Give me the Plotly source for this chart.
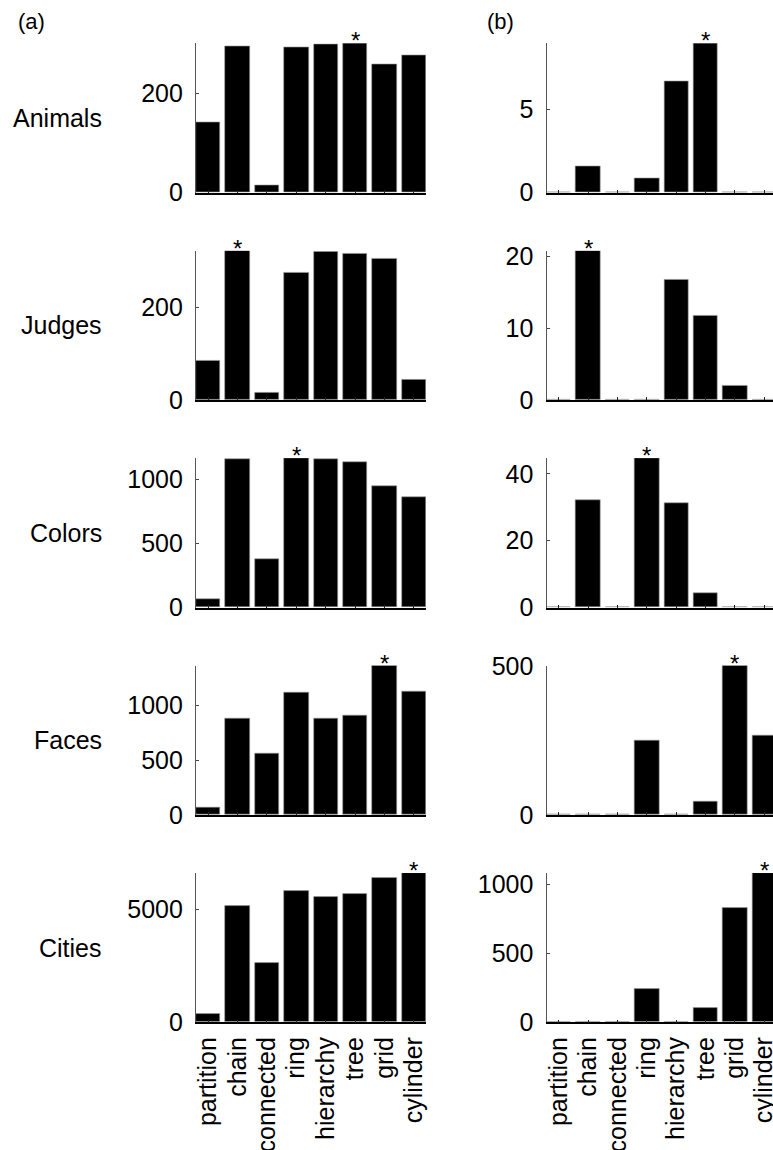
import plotly.graph_objects as go

categories = ["partition", "chain", "connected", "ring", "hierarchy", "tree", "grid", "cylinder"]
datasets = ["Animals", "Judges", "Colors", "Faces", "Cities"]

a_animals = [141, 294, 15, 292, 298, 301, 258, 276]
a_judges = [84, 322, 16, 275, 320, 315, 305, 43]
a_colors = [65, 1162, 378, 1167, 1160, 1136, 951, 859]
a_faces = [64, 881, 561, 1116, 878, 908, 1366, 1131]
a_cities = [355, 5165, 2647, 5817, 5564, 5684, 6408, 6616]

b_animals = [0, 1.6, 0, 0.84, 6.71, 8.96, 0, 0]
b_judges = [0, 20.8, 0, 0, 16.8, 11.76, 2.0, 0]
b_colors = [0, 32.0, 0, 44.7, 31.2, 4.2, 0, 0]
b_faces = [0, 0, 0, 250, 0, 46, 501, 267]
b_cities = [0, 0, 0, 243, 0, 101, 830, 1084]

a_dticks = [200, 200, 500, 500, 5000]
b_dticks = [5, 10, 20, 500, 500]

a_series = [a_animals, a_judges, a_colors, a_faces, a_cities]
b_series = [b_animals, b_judges, b_colors, b_faces, b_cities]

W, H = 773, 1150
FONT = "Liberation Sans, Arial, sans-serif"
FS = 25

base0, step, ph = 192.7, 207.4, 149.4
left_x0, left_x1 = 196.0, 426.0
right_x0 = 546.5
px_per_unit = (left_x1 - left_x0) / 7.83
right_max = -0.415 + (W - right_x0) / px_per_unit

fig = go.Figure()
annotations = []

idx = 0
for r in range(5):
    b = base0 + r * step
    t = b - ph
    ydom = [(H - b) / H, (H - t) / H]
    for c, (series, dticks) in enumerate([(a_series, a_dticks), (b_series, b_dticks)]):
        idx += 1
        vals = series[r]
        xa = "x" if idx == 1 else f"x{idx}"
        ya = "y" if idx == 1 else f"y{idx}"
        xkey = "xaxis" if idx == 1 else f"xaxis{idx}"
        ykey = "yaxis" if idx == 1 else f"yaxis{idx}"
        fig.add_trace(go.Bar(
            x=list(range(len(categories))), y=vals, width=0.83,
            marker=dict(color="black", line=dict(width=0.6, color="#9a9a9a")),
            xaxis=xa, yaxis=ya, showlegend=False, hoverinfo="skip",
        ))
        if c == 0:
            xdom = [left_x0 / W, left_x1 / W]
            xr = [-0.415, 7.415]
        else:
            xdom = [right_x0 / W, 1.0]
            xr = [-0.415, right_max]
        ymax = max(vals)
        fig.layout[xkey] = dict(
            domain=xdom, range=xr, anchor=ya, tickmode="array",
            tickvals=list(range(len(categories))), ticktext=categories,
            showticklabels=(r == 4), tickangle=-90,
            ticks="inside", ticklen=3, tickcolor="#222", tickwidth=1,
            showline=True, linecolor="black", linewidth=1.6,
            showgrid=False, zeroline=False, automargin=False,
            tickfont=dict(family=FONT, size=FS, color="black"),
            ticklabelstandoff=3, ticklabeloverflow="allow", fixedrange=True,
        )
        fig.layout[ykey] = dict(
            domain=ydom, range=[0, ymax], anchor=xa,
            tickmode="linear", tick0=0, dtick=dticks[r],
            ticks="inside", ticklen=3, tickcolor="#444", tickwidth=1,
            showline=True, linecolor="#555", linewidth=1.2,
            showgrid=False, zeroline=False, automargin=False,
            tickfont=dict(family=FONT, size=FS, color="black"),
            ticklabelstandoff=7, fixedrange=True,
        )
        imax = vals.index(ymax)
        annotations.append(dict(
            x=imax, y=ymax, xref=xa, yref=ya, text="*", showarrow=False,
            xanchor="center", yanchor="bottom", yshift=-13,
            font=dict(family=FONT, size=24, color="black"),
        ))
    annotations.append(dict(
        x=104 / W, y=(H - (b - ph / 2)) / H, xref="paper", yref="paper",
        text=datasets[r], showarrow=False, xanchor="right", yanchor="middle",
        font=dict(family=FONT, size=FS, color="black"),
    ))

annotations.append(dict(x=16 / W, y=(H - 21) / H, xref="paper", yref="paper", text="(a)",
                        showarrow=False, xanchor="left", yanchor="middle",
                        font=dict(family=FONT, size=22, color="black")))
annotations.append(dict(x=485 / W, y=(H - 21) / H, xref="paper", yref="paper", text="(b)",
                        showarrow=False, xanchor="left", yanchor="middle",
                        font=dict(family=FONT, size=22, color="black")))

fig.update_layout(
    width=W, height=H, margin=dict(l=0, r=0, t=0, b=0),
    paper_bgcolor="white", plot_bgcolor="white",
    annotations=annotations, bargap=0,
)

fig.write_html("out.html", config={"displayModeBar": False},
               post_script="document.body.style.margin='0';document.body.style.overflow='hidden';")
